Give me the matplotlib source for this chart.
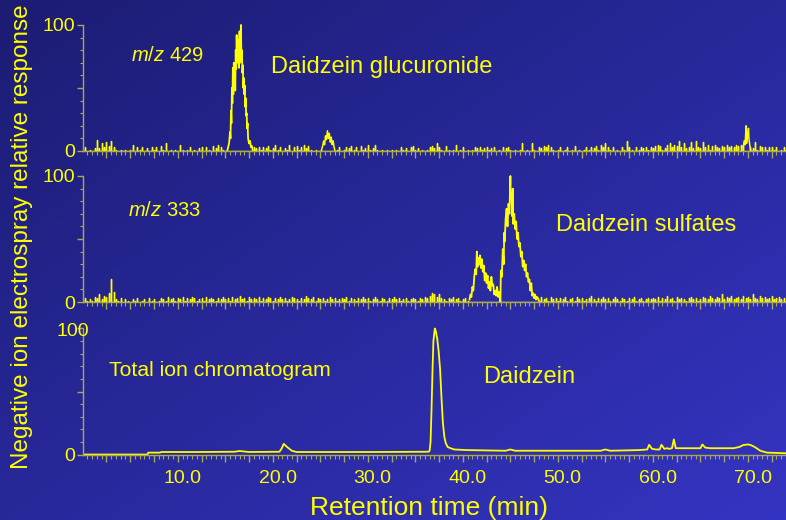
import numpy as np
import matplotlib.pyplot as plt
from matplotlib.ticker import MultipleLocator, FixedLocator
from matplotlib.colors import LinearSegmentedColormap

plt.rcParams['font.family'] = ['Liberation Sans', 'DejaVu Sans']
plt.rcParams['mathtext.fontset'] = 'custom'
plt.rcParams['mathtext.it'] = 'Liberation Sans:italic'
plt.rcParams['mathtext.rm'] = 'Liberation Sans'

YELLOW = '#ffff00'
AXIS_COL = '#a8a852'

# selected-ion traces are sampled every 0.25 min starting at -0.5 min
grid_start = -0.5
grid_step = 0.25

# m/z 429 baseline (relative response), one row per 5 min
noise_429 = [
    0, 3, 0, 1, 0, 2, 9, 2, 6, 3, 7, 4, 8, 3, 1, 0, 1, 0, 1, 0,
    1, 5, 0, 3, 1, 3, 0, 2, 0, 3, 1, 3, 0, 4, 1, 6, 0, 1, 0, 1,
    0, 5, 1, 0, 1, 3, 0, 1, 0, 2, 3, 0, 3, 1, 0, 4, 2, 5, 3, 1,
    0, 0, 0, 0, 0, 0, 0, 0, 0, 0, 0, 0, 3, 2, 3, 1, 3, 2, 4, 1,
    2, 5, 1, 3, 0, 2, 1, 5, 0, 3, 4, 1, 3, 5, 2, 4, 1, 0, 1, 0,
    0, 0, 0, 0, 0, 0, 0, 1, 3, 0, 1, 3, 2, 4, 1, 3, 0, 4, 1, 2,
    5, 1, 2, 5, 1, 0, 1, 0, 1, 0, 1, 0, 1, 0, 3, 1, 2, 0, 3, 4,
    1, 2, 0, 1, 0, 1, 3, 4, 2, 6, 3, 1, 0, 4, 1, 0, 1, 5, 0, 1,
    3, 0, 1, 0, 1, 3, 2, 3, 1, 2, 3, 1, 2, 3, 0, 1, 0, 3, 2, 3,
    1, 0, 1, 0, 1, 6, 0, 1, 0, 6, 1, 0, 3, 2, 4, 3, 5, 3, 1, 0,
    1, 3, 0, 1, 3, 0, 1, 4, 0, 1, 0, 1, 3, 1, 3, 2, 4, 1, 5, 3,
    6, 3, 1, 3, 0, 1, 0, 3, 1, 8, 3, 1, 0, 3, 1, 3, 2, 3, 1, 3,
    2, 4, 5, 4, 1, 2, 5, 6, 3, 5, 4, 8, 3, 6, 2, 3, 7, 2, 8, 3,
    2, 7, 3, 5, 1, 4, 5, 3, 2, 4, 3, 5, 3, 4, 3, 5, 4, 5, 5, 0,
    0, 3, 2, 7, 1, 4, 3, 3, 1, 3, 3, 1, 3, 0, 1, 3, 1, 0, 0, 0,
]

# m/z 429 peaks: daidzein glucuronide, minor peak near 25 min, late peak
gluc_t = [14.7, 14.8, 14.9, 15.0, 15.05, 15.1, 15.15, 15.2, 15.25, 15.3,
          15.35, 15.4, 15.45, 15.5, 15.55, 15.6, 15.65, 15.7, 15.75, 15.8,
          15.85, 15.9, 15.95, 16.0, 16.05, 16.1, 16.15, 16.2, 16.25, 16.3,
          16.35, 16.4, 16.45, 16.5, 16.55, 16.6, 16.65, 16.7, 16.75, 16.8,
          16.85, 16.9, 17.0, 17.1, 17.2, 17.3, 17.4]
gluc_v = [0, 3, 6, 15, 10, 32, 22, 50, 38, 66,
          45, 70, 58, 62, 48, 80, 65, 92, 70, 86,
          75, 88, 66, 95, 70, 84, 100, 72, 80, 62,
          68, 50, 58, 45, 52, 35, 42, 28, 30, 18,
          22, 10, 6, 8, 3, 4, 0]
minor_t = [24.6, 24.75, 24.85, 24.95, 25.05, 25.15, 25.25, 25.35, 25.45,
           25.55, 25.65, 25.75, 25.85, 25.95, 26.05]
minor_v = [0, 4, 8, 5, 12, 9, 16, 10, 14, 7, 11, 5, 8, 3, 0]
late_t = [69.0, 69.1, 69.2, 69.3, 69.35, 69.45, 69.55, 69.6, 69.7, 69.8]
late_v = [3, 8, 5, 20, 6, 12, 18, 10, 4, 0]

# m/z 333 baseline, one row per 5 min
noise_333 = [
    0, 3, 1, 2, 1, 4, 3, 6, 2, 5, 4, 7, 18, 8, 2, 1, 3, 0, 2, 1,
    0, 2, 1, 3, 0, 1, 2, 0, 3, 1, 2, 0, 1, 3, 2, 1, 4, 2, 3, 1,
    3, 2, 4, 1, 3, 2, 4, 3, 1, 2, 3, 1, 4, 2, 3, 2, 1, 3, 2, 4,
    2, 3, 1, 4, 2, 3, 5, 2, 3, 1, 4, 2, 3, 2, 4, 1, 3, 2, 4, 3,
    1, 3, 2, 4, 2, 3, 1, 2, 4, 3, 2, 1, 3, 2, 5, 3, 2, 4, 1, 3,
    2, 3, 1, 2, 4, 2, 3, 1, 2, 3, 2, 4, 1, 3, 2, 1, 3, 2, 4, 2,
    3, 1, 2, 4, 2, 1, 3, 2, 1, 3, 2, 4, 2, 3, 1, 2, 3, 1, 2, 3,
    2, 1, 3, 2, 4, 3, 5, 7, 6, 4, 6, 3, 2, 1, 3, 2, 4, 2, 3, 1,
    2, 3, 1, 0, 0, 0, 0, 0, 0, 0, 0, 0, 0, 0, 0, 0, 0, 0, 0, 0,
    0, 0, 0, 0, 0, 0, 0, 0, 0, 0, 0, 0, 0, 4, 2, 3, 1, 4, 2, 3,
    1, 3, 2, 4, 1, 2, 3, 1, 4, 2, 3, 1, 2, 3, 5, 2, 1, 3, 2, 4,
    2, 3, 1, 2, 4, 2, 1, 3, 2, 1, 3, 2, 4, 1, 2, 3, 1, 2, 3, 2,
    3, 2, 4, 1, 3, 2, 5, 2, 3, 1, 4, 2, 3, 2, 1, 3, 4, 2, 3, 1,
    2, 4, 3, 2, 5, 3, 2, 4, 3, 6, 2, 4, 3, 5, 2, 3, 4, 2, 5, 3,
    4, 2, 6, 3, 2, 5, 3, 4, 2, 3, 5, 2, 3, 4, 2, 3, 1, 2, 0, 0,
]

# m/z 333 daidzein sulfate pair
sulf_t = [40.2, 40.3, 40.4, 40.5, 40.6, 40.7, 40.8, 40.9, 40.97, 41.05,
          41.1, 41.2, 41.3, 41.4, 41.5, 41.6, 41.7, 41.8, 41.9, 42.0,
          42.1, 42.2, 42.3, 42.4, 42.5, 42.6, 42.7, 42.8, 42.9, 43.0,
          43.1, 43.2, 43.3, 43.4, 43.45, 43.5, 43.6, 43.7, 43.8, 43.85,
          43.9, 44.0, 44.1, 44.2, 44.3, 44.4, 44.5, 44.55, 44.6, 44.7,
          44.75, 44.8, 44.9, 45.0, 45.1, 45.2, 45.3, 45.4, 45.5, 45.6,
          45.7, 45.8, 45.9, 46.0, 46.1, 46.2, 46.3, 46.4, 46.5, 46.6,
          46.7, 46.8, 46.9, 47.0, 47.1, 47.2, 47.3, 47.4, 47.5, 47.6]
sulf_v = [2, 6, 4, 12, 9, 20, 26, 22, 40, 28,
          35, 30, 37, 27, 34, 24, 29, 17, 23, 15,
          21, 11, 16, 9, 20, 13, 14, 6, 9, 5,
          12, 4, 8, 3, 0, 25, 20, 42, 30, 55,
          48, 66, 74, 60, 78, 70, 100, 82, 86, 68,
          90, 62, 70, 58, 64, 50, 55, 44, 47, 36,
          40, 28, 33, 25, 30, 20, 23, 16, 18, 9,
          15, 5, 7, 3, 6, 2, 4, 3, 1, 0]

# total ion chromatogram
tic_t = [-0.5, 6.3, 6.4, 7.6, 7.8, 12.0, 15.5, 16.0, 17.0, 20.2,
         20.45, 20.65, 21.0, 21.5, 22.0, 30.0, 35.9, 36.0, 36.1, 36.2,
         36.3, 36.4, 36.55, 36.65, 36.8, 36.95, 37.1, 37.25, 37.4, 37.55,
         37.7, 37.9, 38.2, 38.6, 40.0, 44.0, 44.5, 45.0, 50.0, 54.0,
         54.5, 55.0, 58.0, 58.9, 59.1, 59.4, 59.8, 60.2, 60.4, 60.7,
         61.0, 61.2, 61.5, 61.7, 61.9, 62.3, 64.0, 64.5, 64.7, 65.0,
         65.5, 68.0, 68.6, 69.0, 69.5, 69.8, 70.2, 70.8, 71.5, 73.5]
tic_v = [0, 0, 1.5, 1.5, 2, 2, 2.2, 2.8, 2, 2.2,
         5, 8.5, 6, 3, 2, 2, 2.2, 3, 10, 35,
         65, 90, 100, 98, 92, 82, 68, 45, 25, 14,
         9, 6, 5, 4, 3.5, 3, 4, 3, 3, 3,
         4, 3, 3.5, 4, 7.7, 4.5, 4, 4, 7.7, 4.5,
         5, 4.5, 5, 12, 5, 5, 5, 5, 8, 5.5,
         5, 5, 6, 7.5, 8, 7.5, 6, 3, 1.5, 1]

tick_labels = ['10.0', '20.0', '30.0', '40.0', '50.0', '60.0', '70.0']
tick_values = [10, 20, 30, 40, 50, 60, 70]


def spikes(ax, t, v):
    # each noise sample drawn as a spike up from the baseline and back
    t = np.asarray(t, dtype=float)
    v = np.asarray(v, dtype=float)
    xs = np.repeat(t, 3)
    ys = np.column_stack([np.zeros_like(v), v, np.zeros_like(v)]).ravel()
    ax.plot(xs, ys, color=YELLOW, lw=1.0)


fig = plt.figure(figsize=(7.86, 5.2), dpi=100)

# blue slide background, darker top-left to lighter bottom-right
bg = fig.add_axes([0, 0, 1, 1], zorder=-10)
yy, xx = np.mgrid[0:1:260j, 0:1:393j]
blue = LinearSegmentedColormap.from_list('slide', ['#1c1c74', '#3434c2'])
bg.imshow(0.5 * xx + 0.5 * yy, cmap=blue, aspect='auto', extent=[0, 1, 0, 1])
bg.axis('off')

left, width, height = 83 / 786, 703 / 786, 0.2472
bottoms = [0.7072, 0.4168, 0.1235]
axes = []
for b in bottoms:
    ax = fig.add_axes([left, b, width, height])
    ax.patch.set_alpha(0)
    ax.set_xlim(-0.47, 73.5)
    ax.set_ylim(-1, 101)
    for s in ['top', 'right']:
        ax.spines[s].set_visible(False)
    ax.spines['left'].set_bounds(0, 100)
    ax.spines['bottom'].set_position(('data', 0))
    for s in ['left', 'bottom']:
        ax.spines[s].set_color(AXIS_COL)
        ax.spines[s].set_linewidth(1.0)
    ax.xaxis.set_major_locator(FixedLocator(np.arange(2, 74, 2.5)))
    ax.xaxis.set_minor_locator(MultipleLocator(0.5))
    ax.tick_params(axis='x', which='major', length=5, width=1, color=AXIS_COL,
                   labelbottom=False)
    ax.tick_params(axis='x', which='minor', length=3, width=0.8, color=AXIS_COL)
    ax.set_yticks([0, 50, 100])
    ax.yaxis.set_minor_locator(MultipleLocator(10))
    ax.tick_params(axis='y', which='major', length=4, width=1, color=AXIS_COL,
                   labelcolor=YELLOW, labelsize=14, pad=2)
    ax.tick_params(axis='y', which='minor', length=2.5, width=0.8, color=AXIS_COL)
    axes.append(ax)

ax1, ax2, ax3 = axes
ax1.set_yticklabels(['0', '', '100'])
ax2.set_yticklabels(['0', '', '100'])
ax3.set_yticklabels(['0', '', ''])
ax3.annotate('100', xy=(0, 98), xycoords=('axes fraction', 'data'),
             xytext=(-7.4, 0), textcoords='offset points',
             ha='center', va='center', color=YELLOW, fontsize=14)

t_grid = grid_start + grid_step * np.arange(len(noise_429))

# m/z 429
spikes(ax1, t_grid, noise_429)
ax1.plot(gluc_t, gluc_v, color=YELLOW, lw=1.3)
ax1.plot(minor_t, minor_v, color=YELLOW, lw=1.1)
ax1.plot(late_t, late_v, color=YELLOW, lw=1.1)
ax1.text(4.58, 76, r'$m/z$ 429', color=YELLOW, fontsize=14.5, va='center')
ax1.text(19.3, 67, 'Daidzein glucuronide', color=YELLOW, fontsize=17, va='center')

# m/z 333
spikes(ax2, t_grid, noise_333)
ax2.plot(sulf_t, sulf_v, color=YELLOW, lw=1.3)
ax2.text(4.23, 73, r'$m/z$ 333', color=YELLOW, fontsize=14.5, va='center')
ax2.text(49.3, 61, 'Daidzein sulfates', color=YELLOW, fontsize=17, va='center')

# total ion chromatogram
ax3.plot(tic_t, tic_v, color=YELLOW, lw=1.3)
ax3.text(2.3, 66.7, 'Total ion chromatogram', color=YELLOW, fontsize=15.3, va='center')
ax3.text(41.66, 61.3, 'Daidzein', color=YELLOW, fontsize=17, va='center')
for v, lab in zip(tick_values, tick_labels):
    ax3.annotate(lab, xy=(v, 0), xycoords='data', xytext=(0, -17.3),
                 textcoords='offset points', ha='center', va='center',
                 color=YELLOW, fontsize=14)

fig.text(429 / 786, 1 - 508 / 520, 'Retention time (min)', color=YELLOW,
         fontsize=19, ha='center', va='center')
fig.text(22 / 786, 1 - 237 / 520, 'Negative ion electrospray relative response',
         color=YELLOW, fontsize=17.5, ha='center', va='center', rotation=90)

fig.savefig('out.png', dpi=100)
